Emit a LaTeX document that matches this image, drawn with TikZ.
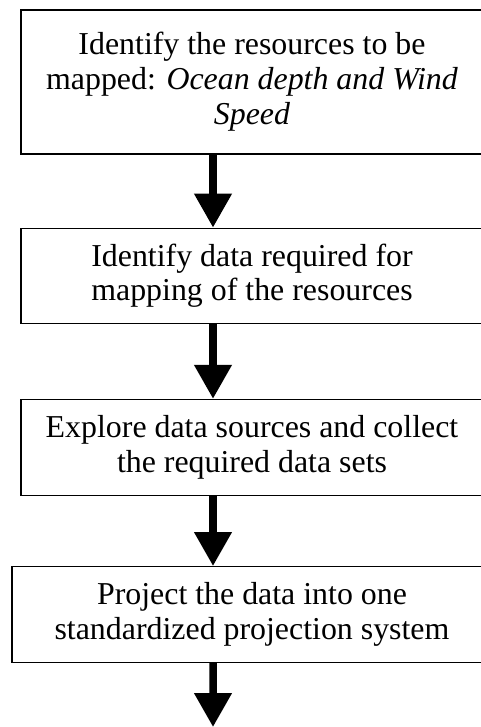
\documentclass[tikz,border=0pt]{standalone}
\usepackage{fontspec}
\setmainfont{Liberation Serif}
\usetikzlibrary{arrows.meta,positioning}

\begin{document}
\begin{tikzpicture}[x=1bp,y=-1bp,node distance=73bp,
  stage/.style={draw,line width=1.2bp,align=center,minimum width=462bp,inner sep=0pt,
    font=\fontsize{32}{35}\selectfont},
  flow/.style={line width=7.5bp,-{Triangle[length=34bp,width=36bp]}}]
\useasboundingbox (0,0) rectangle (481,727);
\node[stage,minimum height=144bp] (ident) at (252,82) {Identify the resources to be\\ mapped: \textit{Ocean depth and Wind}\\ \textit{Speed}};
\node[stage,minimum height=95bp] (need) [below=of ident] {Identify data required for\\ mapping of the resources};
\node[stage,minimum height=96bp] (collect) [below=75bp of need] {Explore data sources and collect\\ the required data sets};
\node[stage,minimum height=96bp,minimum width=480bp] (project) [below=70bp of collect] {Project the data into one\\ standardized projection system};
\coordinate (next) at (213,727);
\draw[flow] ([xshift=-39bp]ident.south) -- ([xshift=-39bp]need.north);
\draw[flow] ([xshift=-39bp]need.south) -- ([xshift=-39bp]collect.north);
\draw[flow] ([xshift=-39bp]collect.south) -- ([xshift=-39bp]project.north);
\draw[flow] ([xshift=-39bp]project.south) -- (next);
\end{tikzpicture}
\end{document}
